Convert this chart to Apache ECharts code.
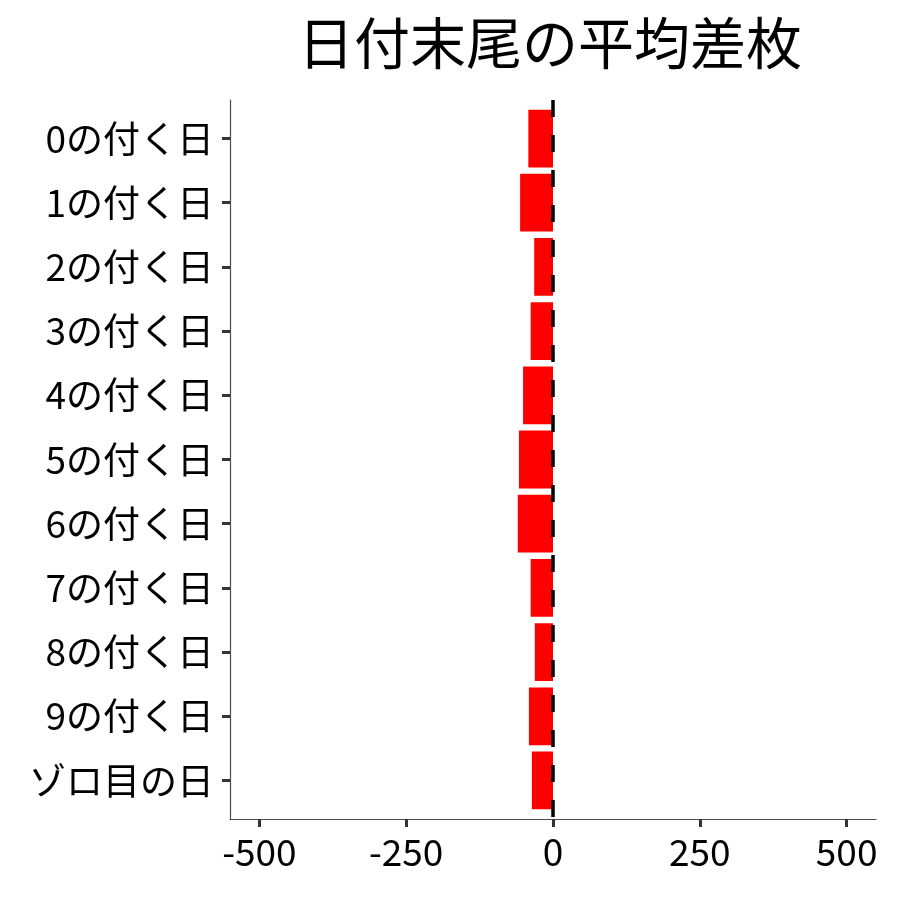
<!DOCTYPE html>
<html><head><meta charset="utf-8">
<script src="https://cdn.jsdelivr.net/npm/echarts@6/dist/echarts.min.js"></script>
<style>html,body{margin:0;padding:0;background:#fff}#c{width:900px;height:900px}</style>
</head><body><div id="c"></div>
<script>
const titleText = "日付末尾の平均差枚";
const categories = ["0の付く日","1の付く日","2の付く日","3の付く日","4の付く日","5の付く日","6の付く日","7の付く日","8の付く日","9の付く日","ゾロ目の日"];
const values = [-42, -56, -32, -38, -51, -58, -60, -38, -31, -41, -36];
const xTicks = [-500, -250, 0, 250, 500];

const font = "'Noto Sans CJK JP', 'Noto Sans', sans-serif";
const chart = echarts.init(document.getElementById('c'));
const catIdx = categories.map((_, i) => i);
chart.setOption({
  animation: false,
  title: { text: titleText, left: 293, top: 10,
    textStyle: { fontFamily: font, fontSize: 56, fontWeight: 'normal', color: '#000' } },
  grid: { left: 230, right: 24, top: 100, bottom: 81 },
  xAxis: { type: 'value', min: -550, max: 550,
    axisLine: { show: true, onZero: false, lineStyle: { color: '#4d4d4d', width: 1.2 } },
    axisTick: { show: true, length: 8, lineStyle: { color: '#333', width: 3 }, customValues: xTicks },
    axisLabel: { customValues: xTicks, fontFamily: font, fontSize: 37, color: '#000', margin: 14 },
    splitLine: { show: false } },
  yAxis: { type: 'value', inverse: true, min: -0.6, max: categories.length - 0.4,
    axisLine: { show: true, onZero: false, lineStyle: { color: '#4d4d4d', width: 1.2 } },
    axisTick: { show: true, length: 8, lineStyle: { color: '#333', width: 3 }, customValues: catIdx },
    axisLabel: { customValues: catIdx, formatter: v => categories[Math.round(v)] || '',
      fontFamily: font, fontSize: 37, color: '#000', margin: 16 },
    splitLine: { show: false } },
  series: [{
    type: 'custom',
    data: values.map((v, i) => [v, i]),
    encode: { x: 0, y: 1 },
    renderItem: function (params, api) {
      const v = api.value(0), i = api.value(1);
      const p0 = api.coord([0, i]);
      const p1 = api.coord([v, i]);
      const h = api.size([0, 1])[1] * 0.9;
      const x = Math.min(p0[0], p1[0]);
      return { type: 'rect',
        shape: { x: x, y: p0[1] - h / 2, width: Math.abs(p1[0] - p0[0]), height: h },
        style: { fill: '#ff0000' } };
    },
    z: 2,
    markLine: {
      silent: true, symbol: 'none', label: { show: false },
      lineStyle: { color: '#000', type: [17, 18], width: 3.5 },
      data: [{ xAxis: 0 }],
      z: 5
    }
  }]
});
</script></body></html>
